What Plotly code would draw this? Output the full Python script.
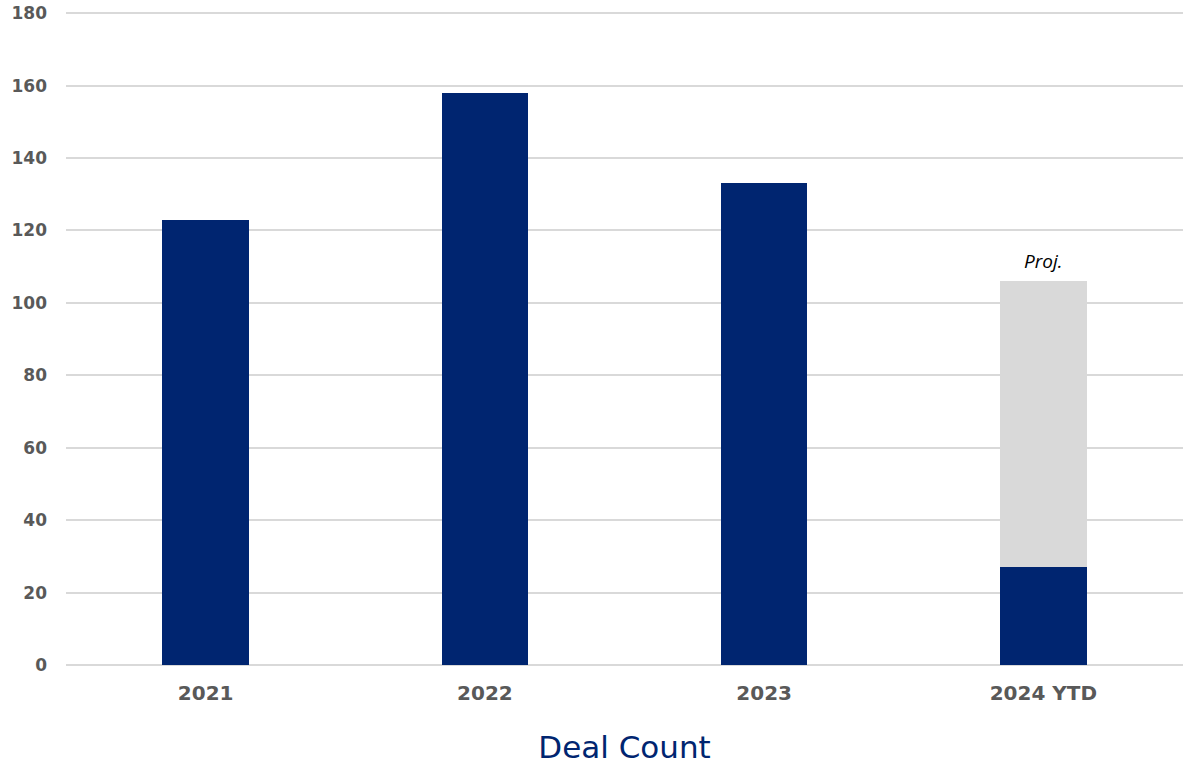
import plotly.graph_objects as go

categories = ["2021", "2022", "2023", "2024 YTD"]
deal_count = [123, 158, 133, 27]
projection = [0, 0, 0, 79]
proj_label = "Proj."

NAVY = "#002570"
GRAY = "#D9D9D9"
TICK = "#595959"

fig = go.Figure()
fig.add_trace(go.Bar(x=categories, y=deal_count, marker=dict(color=NAVY, line=dict(width=0)),
                     name="Deal Count", hoverinfo="x+y"))
fig.add_trace(go.Bar(x=categories, y=projection, marker=dict(color=GRAY, line=dict(width=0)),
                     name="Projection", hoverinfo="x+y"))

fig.add_annotation(x=categories[-1], y=deal_count[-1] + projection[-1], text=proj_label,
                   showarrow=False, yanchor="bottom", yshift=5,
                   font=dict(family="Open Sans", size=19, color="#000000", style="italic"))

fig.update_layout(
    barmode="stack",
    bargap=0.69,
    width=1184, height=768,
    margin=dict(l=66, r=1, t=11, b=103),
    paper_bgcolor="white", plot_bgcolor="white",
    showlegend=False,
    font=dict(family="DejaVu Sans", color=TICK),
    xaxis=dict(
        tickfont=dict(family="DejaVu Sans", size=20, color=TICK, weight="bold"),
        showgrid=False, zeroline=False, showline=False, ticks="", ticklabelstandoff=14,
        title=dict(text="Deal Count", font=dict(family="DejaVu Sans", size=31, color=NAVY), standoff=32),
    ),
    yaxis=dict(
        range=[0, 180.6], dtick=20,
        tickfont=dict(family="DejaVu Sans", size=17, color=TICK, weight="bold"),
        gridcolor="#D9D9D9", gridwidth=1.5, zeroline=True, zerolinecolor="#D9D9D9", zerolinewidth=1.5,
        showline=False, ticks="", ticklabelstandoff=18,
    ),
)

fig.write_html("out.html", config={"displayModeBar": False},
               post_script="document.body.style.margin='0';")
